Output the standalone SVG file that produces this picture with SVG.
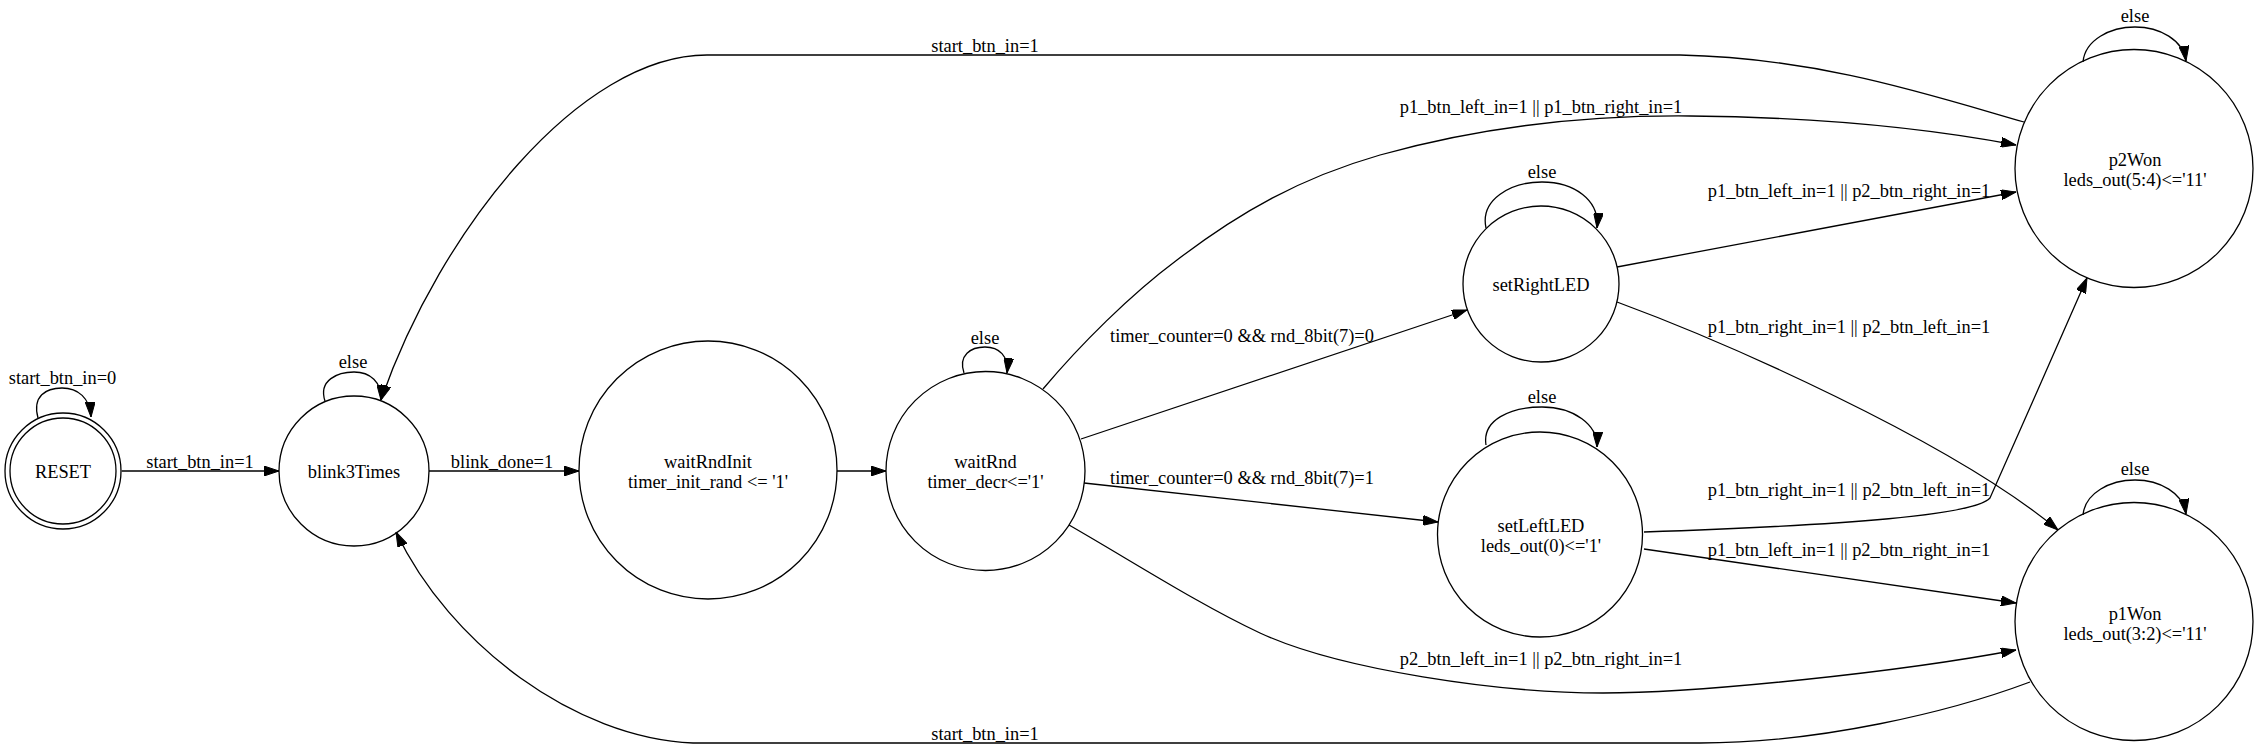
<svg xmlns="http://www.w3.org/2000/svg" width="2258" height="749" viewBox="0 0 2258 749">
<defs>
<marker id="arr" viewBox="0 0 15 10" refX="15" refY="5" markerWidth="15" markerHeight="10" markerUnits="userSpaceOnUse" orient="auto">
<path d="M0,0 L15,5 L0,10 z" fill="#000" stroke="#000" stroke-width="1"/>
</marker>
<style>
.node circle{fill:none;stroke:#000;stroke-width:1.3}
.edge path{fill:none;stroke:#000;stroke-width:1.3;marker-end:url(#arr)}
text{font-family:"Liberation Serif","Times New Roman",serif;font-size:18.4px;fill:#000;text-anchor:middle}
</style>
</defs>
<rect width="2258" height="749" fill="#fff"/>

<g id="edges">
<g id="e_reset_loop" class="edge"><path d="M38,418 C32,396 46,388 62,388 C78,388 90,398 91,417"/><text x="62.5" y="384">start_btn_in=0</text></g>
<g id="e_reset_blink" class="edge"><path d="M121.7,471 L279,471"/><text x="200" y="467.5">start_btn_in=1</text></g>
<g id="e_blink_loop" class="edge"><path d="M325,401 C318,380 338,372 354,372 C370,372 382,382 381,400"/><text x="353" y="368">else</text></g>
<g id="e_blink_init" class="edge"><path d="M429,471 L579,471"/><text x="502" y="467.5">blink_done=1</text></g>
<g id="e_init_wait" class="edge"><path d="M837,471 L886,471"/></g>
<g id="e_wait_loop" class="edge"><path d="M964,373 C958,355 971,347 985,347 C999,347 1009,356 1007,373"/><text x="985" y="344">else</text></g>
<g id="e_wait_right" class="edge"><path d="M1081,439 L1467,310"/><text x="1242" y="342">timer_counter=0 &amp;&amp; rnd_8bit(7)=0</text></g>
<g id="e_wait_left" class="edge"><path d="M1084,483 L1438,522"/><text x="1242" y="484">timer_counter=0 &amp;&amp; rnd_8bit(7)=1</text></g>
<g id="e_wait_p2" class="edge"><path d="M1043,389 C1080,345 1130,295 1177,260 C1240,212 1300,178 1380,155 C1480,127 1580,115 1690,116 C1800,117 1910,125 2016,145"/><text x="1541" y="113">p1_btn_left_in=1 || p1_btn_right_in=1</text></g>
<g id="e_wait_p1" class="edge"><path d="M1069,525 C1130,560 1200,605 1260,633 C1340,670 1500,693 1603,693 C1700,693 1900,672 2016,650"/><text x="1541" y="665">p2_btn_left_in=1 || p2_btn_right_in=1</text></g>
<g id="e_right_loop" class="edge"><path d="M1486,228 C1480,200 1510,182 1542,182 C1574,182 1600,200 1597,228"/><text x="1542" y="178">else</text></g>
<g id="e_left_loop" class="edge"><path d="M1486,445 C1482,420 1510,407 1542,407 C1574,407 1598,425 1597,447"/><text x="1542" y="403">else</text></g>
<g id="e_right_p2" class="edge"><path d="M1617,267 L2016,192"/><text x="1849" y="197">p1_btn_left_in=1 || p2_btn_right_in=1</text></g>
<g id="e_right_p1" class="edge"><path d="M1617,302 C1720,340 1950,440 2058,530"/><text x="1849" y="333">p1_btn_right_in=1 || p2_btn_left_in=1</text></g>
<g id="e_left_p2" class="edge"><path d="M1644,532 C1850,525 1975,515 1990,498 C2020,430 2060,340 2087,278"/><text x="1849" y="496">p1_btn_right_in=1 || p2_btn_left_in=1</text></g>
<g id="e_left_p1" class="edge"><path d="M1644,549 L2016,603"/><text x="1849" y="556">p1_btn_left_in=1 || p2_btn_right_in=1</text></g>
<g id="e_p2_loop" class="edge"><path d="M2083,62 C2085,40 2110,27 2135,27 C2160,27 2183,40 2186,61"/><text x="2135" y="22">else</text></g>
<g id="e_p1_loop" class="edge"><path d="M2083,515 C2085,493 2110,480 2135,480 C2160,480 2183,493 2186,514"/><text x="2135" y="475">else</text></g>
<g id="e_p2_blink" class="edge"><path d="M2024,122 C1930,95 1820,58 1680,55 L707,55 C580,55 440,230 381,400"/><text x="985" y="52">start_btn_in=1</text></g>
<g id="e_p1_blink" class="edge"><path d="M2030,682 C1950,712 1820,743 1700,743 L693,743 C575,738 450,645 396,532"/><text x="985" y="740">start_btn_in=1</text></g>
</g>

<g id="RESET" class="node"><circle cx="63" cy="471" r="58"/><circle cx="63" cy="471" r="53"/><text x="63" y="478">RESET</text></g>
<g id="blink3Times" class="node"><circle cx="354" cy="471" r="75"/><text x="354" y="478">blink3Times</text></g>
<g id="waitRndInit" class="node"><circle cx="708" cy="470" r="129"/><text x="708" y="468">waitRndInit</text><text x="708" y="488">timer_init_rand &lt;= '1'</text></g>
<g id="waitRnd" class="node"><circle cx="985.5" cy="471" r="99.5"/><text x="985.5" y="468">waitRnd</text><text x="985.5" y="488">timer_decr&lt;='1'</text></g>
<g id="setRightLED" class="node"><circle cx="1541" cy="284" r="78"/><text x="1541" y="291">setRightLED</text></g>
<g id="setLeftLED" class="node"><circle cx="1540" cy="534.5" r="102.5"/><text x="1541" y="532">setLeftLED</text><text x="1541" y="552">leds_out(0)&lt;='1'</text></g>
<g id="p2Won" class="node"><circle cx="2134" cy="168.5" r="119"/><text x="2135" y="166">p2Won</text><text x="2135" y="186">leds_out(5:4)&lt;='11'</text></g>
<g id="p1Won" class="node"><circle cx="2134" cy="621.5" r="119"/><text x="2135" y="620">p1Won</text><text x="2135" y="640">leds_out(3:2)&lt;='11'</text></g>
</svg>
